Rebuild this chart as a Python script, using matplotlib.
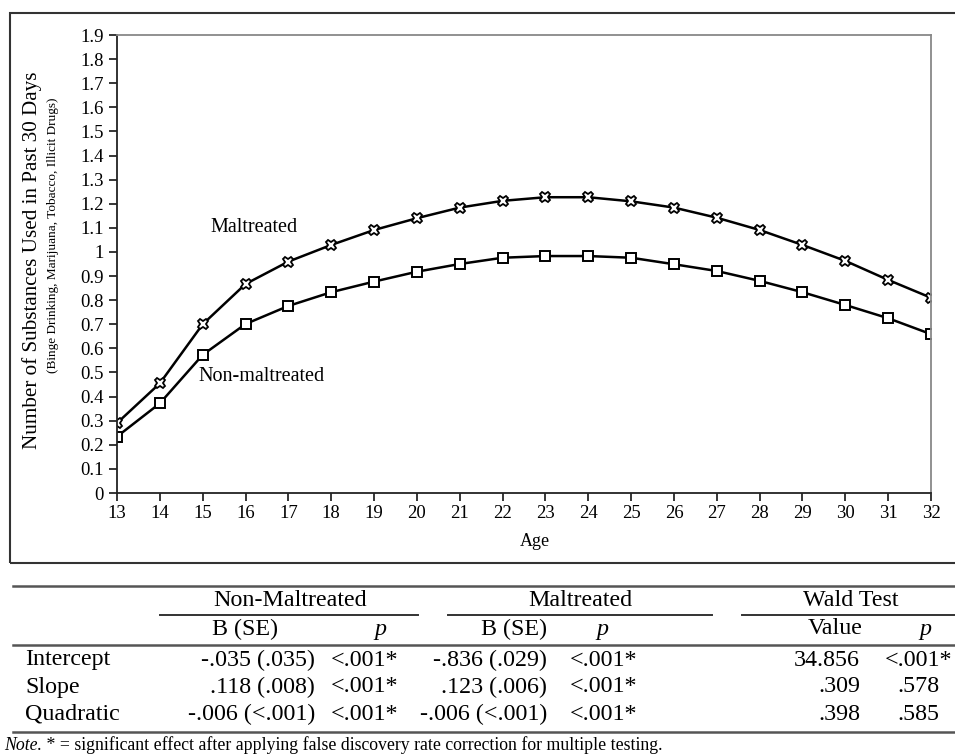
import numpy as np
import matplotlib
matplotlib.use('Agg')
import matplotlib.pyplot as plt
from matplotlib.patches import Rectangle
from matplotlib.lines import Line2D
from matplotlib.ticker import MultipleLocator, FuncFormatter

plt.rcParams['font.family'] = ['Liberation Serif', 'DejaVu Serif']

# data
ages = list(range(13, 33))
maltreated = [0.29, 0.455, 0.70, 0.867, 0.96, 1.029, 1.091, 1.14, 1.184, 1.212,
              1.227, 1.227, 1.21, 1.184, 1.142, 1.091, 1.029, 0.963, 0.884, 0.81]
non_maltreated = [0.234, 0.372, 0.573, 0.701, 0.776, 0.833, 0.877, 0.918, 0.95, 0.976,
                  0.983, 0.983, 0.976, 0.949, 0.921, 0.88, 0.833, 0.78, 0.725, 0.659]

# table contents
row_labels = ['Intercept', 'Slope', 'Quadratic']
non_b = ['-.035 (.035)', '.118 (.008)', '-.006 (<.001)']
non_p = ['<.001*', '<.001*', '<.001*']
mal_b = ['-.836 (.029)', '.123 (.006)', '-.006 (<.001)']
mal_p = ['<.001*', '<.001*', '<.001*']
wald_val = ['34.856', '.309', '.398']
wald_p = ['<.001*', '.578', '.585']
note = ' * = significant effect after applying false discovery rate correction for multiple testing.'

W, H = 955, 756
fig = plt.figure(figsize=(W / 100, H / 100), dpi=100)


def fx(px):
    return px / W


def fy(py):
    return 1 - py / H


# outer frame around the chart
fig.patches.append(Rectangle((fx(10), fy(563)), 1.05, fy(13) - fy(563),
                             transform=fig.transFigure, fill=False,
                             edgecolor='#333333', lw=1.5))

ax = fig.add_axes([fx(117), fy(493), fx(931) - fx(117), fy(35) - fy(493)])
ax.plot(ages, maltreated, color='black', lw=1.8, marker='X', ms=7.5,
        mfc='white', mec='black', mew=1.3)
ax.plot(ages, non_maltreated, color='black', lw=1.8, marker='s', ms=7.5,
        mfc='white', mec='black', mew=1.4)

ax.set_xlim(13, 32)
ax.set_ylim(0, 1.9)
ax.set_xticks(ages)
ax.yaxis.set_major_locator(MultipleLocator(0.1))
ax.yaxis.set_major_formatter(FuncFormatter(lambda v, p: '%g' % round(v, 1)))
ax.tick_params(axis='both', direction='out', length=6, width=1.1, labelsize=13.5)
ax.tick_params(axis='x', pad=3)
for s in ['left', 'bottom']:
    ax.spines[s].set_color('#222222')
    ax.spines[s].set_linewidth(1.3)
for s in ['top', 'right']:
    ax.spines[s].set_color('#888888')
    ax.spines[s].set_linewidth(1.3)

ax.text(15.19, 1.10, 'Maltreated', fontsize=14.5, va='center', ha='left')
ax.text(14.89, 0.485, 'Non-maltreated', fontsize=14.5, va='center', ha='left')

fig.text(fx(32), fy(260), 'Number of Substances Used in Past 30 Days',
         rotation=90, fontsize=15.2, ha='center', va='center')
fig.text(fx(53), fy(235), '(Binge Drinking, Marijuana, Tobacco, Illicit Drugs)',
         rotation=90, fontsize=9.5, ha='center', va='center')
fig.text(fx(535), fy(542), 'Age', fontsize=13, ha='center', va='center')

# table below the chart
def hline(y, x0, x1, lw=1.8, color='#555555'):
    fig.add_artist(Line2D([fx(x0), fx(x1)], [fy(y), fy(y)],
                          transform=fig.transFigure, color=color, lw=lw))


hline(586, 13, 955)
hline(615, 160, 418, lw=1.4, color='#333333')
hline(615, 448, 712, lw=1.4, color='#333333')
hline(615, 742, 955, lw=1.4, color='#333333')
hline(645, 13, 955)
hline(732, 13, 955)

fs = 17.3
fig.text(fx(290), fy(601), 'Non-Maltreated', fontsize=fs, ha='center', va='center')
fig.text(fx(580), fy(601), 'Maltreated', fontsize=fs, ha='center', va='center')
fig.text(fx(851), fy(601), 'Wald Test', fontsize=fs, ha='center', va='center')

fig.text(fx(245), fy(629), 'B (SE)', fontsize=fs, ha='center', va='center')
fig.text(fx(380), fy(629), 'p', fontsize=fs, ha='center', va='center', style='italic')
fig.text(fx(514), fy(629), 'B (SE)', fontsize=fs, ha='center', va='center')
fig.text(fx(602), fy(629), 'p', fontsize=fs, ha='center', va='center', style='italic')
fig.text(fx(835), fy(629), 'Value', fontsize=fs, ha='center', va='center')
fig.text(fx(925), fy(629), 'p', fontsize=fs, ha='center', va='center', style='italic')

row_y = [660, 687, 714]
for i, y in enumerate(row_y):
    fig.text(fx(25), fy(y), row_labels[i], fontsize=fs, ha='left', va='center')
    fig.text(fx(315), fy(y), non_b[i], fontsize=fs, ha='right', va='center')
    fig.text(fx(331), fy(y), non_p[i], fontsize=fs, ha='left', va='center')
    fig.text(fx(547), fy(y), mal_b[i], fontsize=fs, ha='right', va='center')
    fig.text(fx(570), fy(y), mal_p[i], fontsize=fs, ha='left', va='center')
    fig.text(fx(860), fy(y), wald_val[i], fontsize=fs, ha='right', va='center')
    fig.text(fx(918), fy(y), wald_p[i], fontsize=fs, ha='center', va='center')

t = fig.text(fx(4), fy(745), 'Note.', fontsize=12.8, style='italic', ha='left', va='center')
fig.canvas.draw()
bb = t.get_window_extent()
fig.text(bb.x1 / W, fy(745), note, fontsize=12.8, ha='left', va='center')

fig.savefig('out.png', dpi=100)
